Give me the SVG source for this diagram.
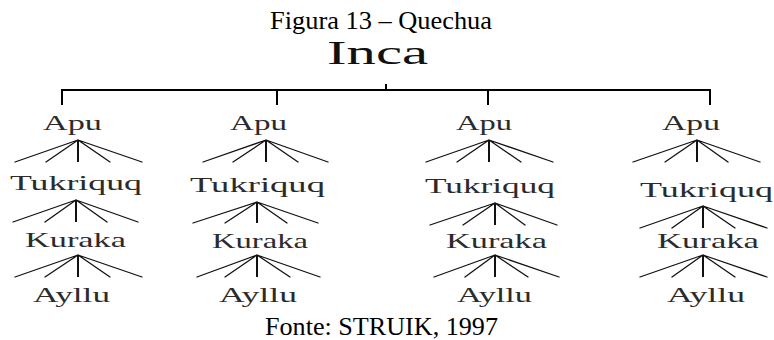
<svg xmlns="http://www.w3.org/2000/svg" width="774" height="340" viewBox="0 0 774 340">
  <style>
    .cap { font-family: "Liberation Serif", "Times New Roman", serif; font-size: 26px; fill: #000; }
    .root { font-family: "Liberation Serif", "Times New Roman", serif; font-size: 33px; fill: #111; }
    .lbl { font-family: "Liberation Serif", "Times New Roman", serif; font-size: 22px; fill: #2b2b2b; }
    .bar { stroke: #000; stroke-width: 2; fill: none; }
    .fan { stroke: #111; stroke-width: 1.3; fill: none; stroke-linecap: round; }
    .stem { stroke: #111; stroke-width: 2; fill: none; }
  </style>
  <rect width="774" height="340" fill="#fff"/>

  <text class="cap" x="270" y="29" textLength="222" lengthAdjust="spacingAndGlyphs">Figura 13 – Quechua</text>

  <g id="inca">
    <text class="root" x="327" y="64" textLength="101" lengthAdjust="spacingAndGlyphs">Inca</text>
  </g>

  <g id="connectors">
    <!-- main bracket -->
    <path class="bar" d="M386 84 V90 M62 90 H711 M62 89 V105 M277 89 V105 M488 89 V105 M710 89 V105"/>
    <!-- column 1 fans -->
    <path class="fan" d="M78 140 L15 162 M78 140 L46 162 M78 140 L110 162 M78 140 L142 162"/>
    <path class="stem" d="M78 140 V162"/>
    <path class="fan" d="M76 200 L13 222 M76 200 L45 222 M76 200 L107 222 M76 200 L138 222"/>
    <path class="stem" d="M76 200 V222"/>
    <path class="fan" d="M78 255 L15 277 M78 255 L45 277 M78 255 L110 277 M78 255 L142 277"/>
    <path class="stem" d="M78 255 V277"/>
    <!-- column 2 fans -->
    <path class="fan" d="M266 140 L203 162 M266 140 L233 162 M266 140 L298 162 M266 140 L328 162"/>
    <path class="stem" d="M266 140 V162"/>
    <path class="fan" d="M257 202 L193 223 M257 202 L225 223 M257 202 L287 223 M257 202 L318 223"/>
    <path class="stem" d="M257 202 V223"/>
    <path class="fan" d="M257 255 L197 277 M257 255 L225 277 M257 255 L290 277 M257 255 L320 277"/>
    <path class="stem" d="M257 255 V277"/>
    <!-- column 3 fans -->
    <path class="fan" d="M489 140 L426 162 M489 140 L457 162 M489 140 L521 162 M489 140 L553 162"/>
    <path class="stem" d="M489 140 V162"/>
    <path class="fan" d="M495 203 L430 225 M495 203 L463 225 M495 203 L525 225 M495 203 L557 225"/>
    <path class="stem" d="M495 203 V225"/>
    <path class="fan" d="M495 255 L434 277 M495 255 L465 277 M495 255 L528 277 M495 255 L559 277"/>
    <path class="stem" d="M495 255 V277"/>
    <!-- column 4 fans -->
    <path class="fan" d="M697 140 L633 162 M697 140 L665 162 M697 140 L728 162 M697 140 L760 162"/>
    <path class="stem" d="M697 140 V162"/>
    <path class="fan" d="M703 206 L640 228 M703 206 L672 228 M703 206 L735 228 M703 206 L767 228"/>
    <path class="stem" d="M703 206 V228"/>
    <path class="fan" d="M703 255 L640 277 M703 255 L672 277 M703 255 L735 277 M703 255 L767 277"/>
    <path class="stem" d="M703 255 V277"/>
  </g>

  <!-- column 1 -->
  <g id="apu-1"><text class="lbl" x="43" y="130" textLength="59" lengthAdjust="spacingAndGlyphs">Apu</text></g>
  <g id="tukriquq-1"><text class="lbl" x="10" y="190" textLength="132" lengthAdjust="spacingAndGlyphs">Tukriquq</text></g>
  <g id="kuraka-1"><text class="lbl" x="25" y="247" textLength="101" lengthAdjust="spacingAndGlyphs">Kuraka</text></g>
  <g id="ayllu-1"><text class="lbl" x="33" y="302" textLength="77" lengthAdjust="spacingAndGlyphs">Ayllu</text></g>

  <!-- column 2 -->
  <g id="apu-2"><text class="lbl" x="230" y="130" textLength="57" lengthAdjust="spacingAndGlyphs">Apu</text></g>
  <g id="tukriquq-2"><text class="lbl" x="190" y="192" textLength="135" lengthAdjust="spacingAndGlyphs">Tukriquq</text></g>
  <g id="kuraka-2"><text class="lbl" x="212" y="248" textLength="96" lengthAdjust="spacingAndGlyphs">Kuraka</text></g>
  <g id="ayllu-2"><text class="lbl" x="219" y="302" textLength="78" lengthAdjust="spacingAndGlyphs">Ayllu</text></g>

  <!-- column 3 -->
  <g id="apu-3"><text class="lbl" x="456" y="130" textLength="56" lengthAdjust="spacingAndGlyphs">Apu</text></g>
  <g id="tukriquq-3"><text class="lbl" x="425" y="193" textLength="130" lengthAdjust="spacingAndGlyphs">Tukriquq</text></g>
  <g id="kuraka-3"><text class="lbl" x="446" y="248" textLength="101" lengthAdjust="spacingAndGlyphs">Kuraka</text></g>
  <g id="ayllu-3"><text class="lbl" x="457" y="302" textLength="75" lengthAdjust="spacingAndGlyphs">Ayllu</text></g>

  <!-- column 4 -->
  <g id="apu-4"><text class="lbl" x="662" y="130" textLength="58" lengthAdjust="spacingAndGlyphs">Apu</text></g>
  <g id="tukriquq-4"><text class="lbl" x="640" y="197" textLength="133" lengthAdjust="spacingAndGlyphs">Tukriquq</text></g>
  <g id="kuraka-4"><text class="lbl" x="657" y="248" textLength="102" lengthAdjust="spacingAndGlyphs">Kuraka</text></g>
  <g id="ayllu-4"><text class="lbl" x="667" y="302" textLength="78" lengthAdjust="spacingAndGlyphs">Ayllu</text></g>

  <text class="cap" x="265" y="335" textLength="233" lengthAdjust="spacingAndGlyphs">Fonte: STRUIK, 1997</text>
</svg>
